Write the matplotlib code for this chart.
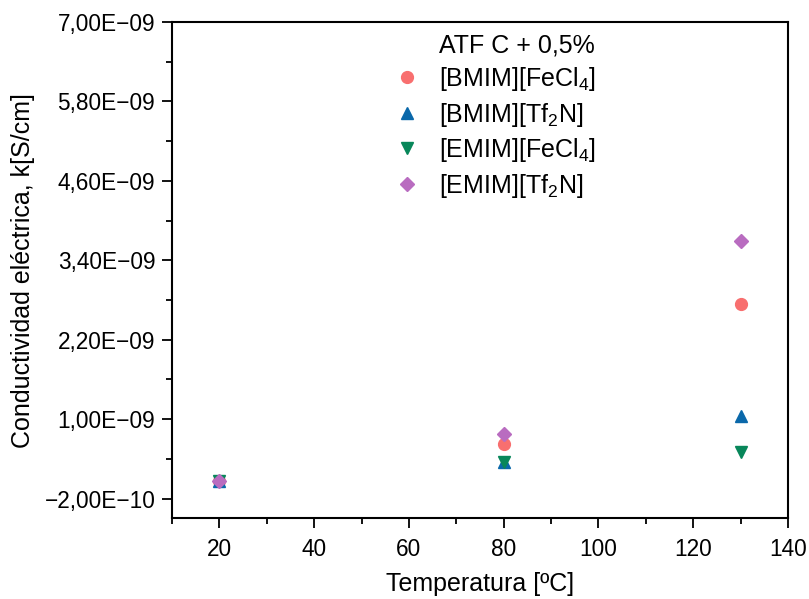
import matplotlib.pyplot as plt
from matplotlib.ticker import FixedLocator, FuncFormatter
from matplotlib.lines import Line2D

plt.rcParams['font.family'] = ['Liberation Sans', 'DejaVu Sans']
plt.rcParams['mathtext.fontset'] = 'custom'
plt.rcParams['mathtext.rm'] = 'Liberation Sans'
plt.rcParams['mathtext.it'] = 'Liberation Sans:italic'
plt.rcParams['mathtext.bf'] = 'Liberation Sans:bold'

# data
temps = [20, 80, 130]
bmim_fecl4 = [7.2e-11, 6.3e-10, 2.74e-9]
bmim_tf2n = [7.2e-11, 3.6e-10, 1.05e-9]
emim_fecl4 = [7.2e-11, 3.6e-10, 5.1e-10]
emim_tf2n = [7.2e-11, 7.8e-10, 3.69e-9]

series = [
    (bmim_fecl4, "o", "#F86F6F", "[BMIM][FeCl$_\\mathrm{4}$]"),
    (bmim_tf2n, "^", "#0A68AA", "[BMIM][Tf$_\\mathrm{2}$N]"),
    (emim_fecl4, "v", "#08875A", "[EMIM][FeCl$_\\mathrm{4}$]"),
    (emim_tf2n, "D", "#B96CC0", "[EMIM][Tf$_\\mathrm{2}$N]"),
]

y_major = [-2e-10 + 1.2e-9 * i for i in range(7)]
y_minor = [4e-10 + 1.2e-9 * i for i in range(6)]

fig = plt.figure(figsize=(8.09, 5.99), dpi=100)
ax = fig.add_axes([0.2126, 0.1344, 0.7614, 0.8289])

handles = [Line2D([], [], linestyle="none", marker="none", label="ATF C + 0,5%")]
for vals, mk, col, lab in series:
    ms = 8.5 if mk != "D" else 7.5
    ax.plot(temps, vals, linestyle="none", marker=mk, color=col, ms=ms, mec=col)
    handles.append(Line2D([], [], linestyle="none", marker=mk, color=col, ms=ms, label=lab))

ax.set_xlim(10, 140)
ax.set_ylim(-5e-10, 7e-9)
ax.set_xticks(range(20, 141, 20))
ax.xaxis.set_minor_locator(FixedLocator(range(10, 141, 10)))
ax.yaxis.set_major_locator(FixedLocator(y_major))
ax.yaxis.set_minor_locator(FixedLocator(y_minor))


def sci_fmt(v, pos):
    s = f"{v:.2E}"
    return s.replace(".", ",").replace("-", "\u2212")


ax.yaxis.set_major_formatter(FuncFormatter(sci_fmt))
ax.tick_params(which="major", direction="out", length=7, width=1.3, labelsize=16.3)
ax.tick_params(axis="x", which="major", pad=7)
ax.tick_params(axis="y", which="major", pad=5)
ax.tick_params(which="minor", direction="out", length=4, width=1.3)
for sp in ax.spines.values():
    sp.set_linewidth(1.5)

ax.set_xlabel("Temperatura [ºC]", fontsize=18, labelpad=8)
ax.set_ylabel("Conductividad eléctrica, k[S/cm]", fontsize=18, labelpad=6.5)

ax.legend(handles=handles, loc="upper left", bbox_to_anchor=(0.326, 1.004),
          frameon=False, fontsize=18, handletextpad=0.5, labelspacing=0.3,
          borderaxespad=0.15, handlelength=1.6)

fig.savefig("out.png", dpi=100)
